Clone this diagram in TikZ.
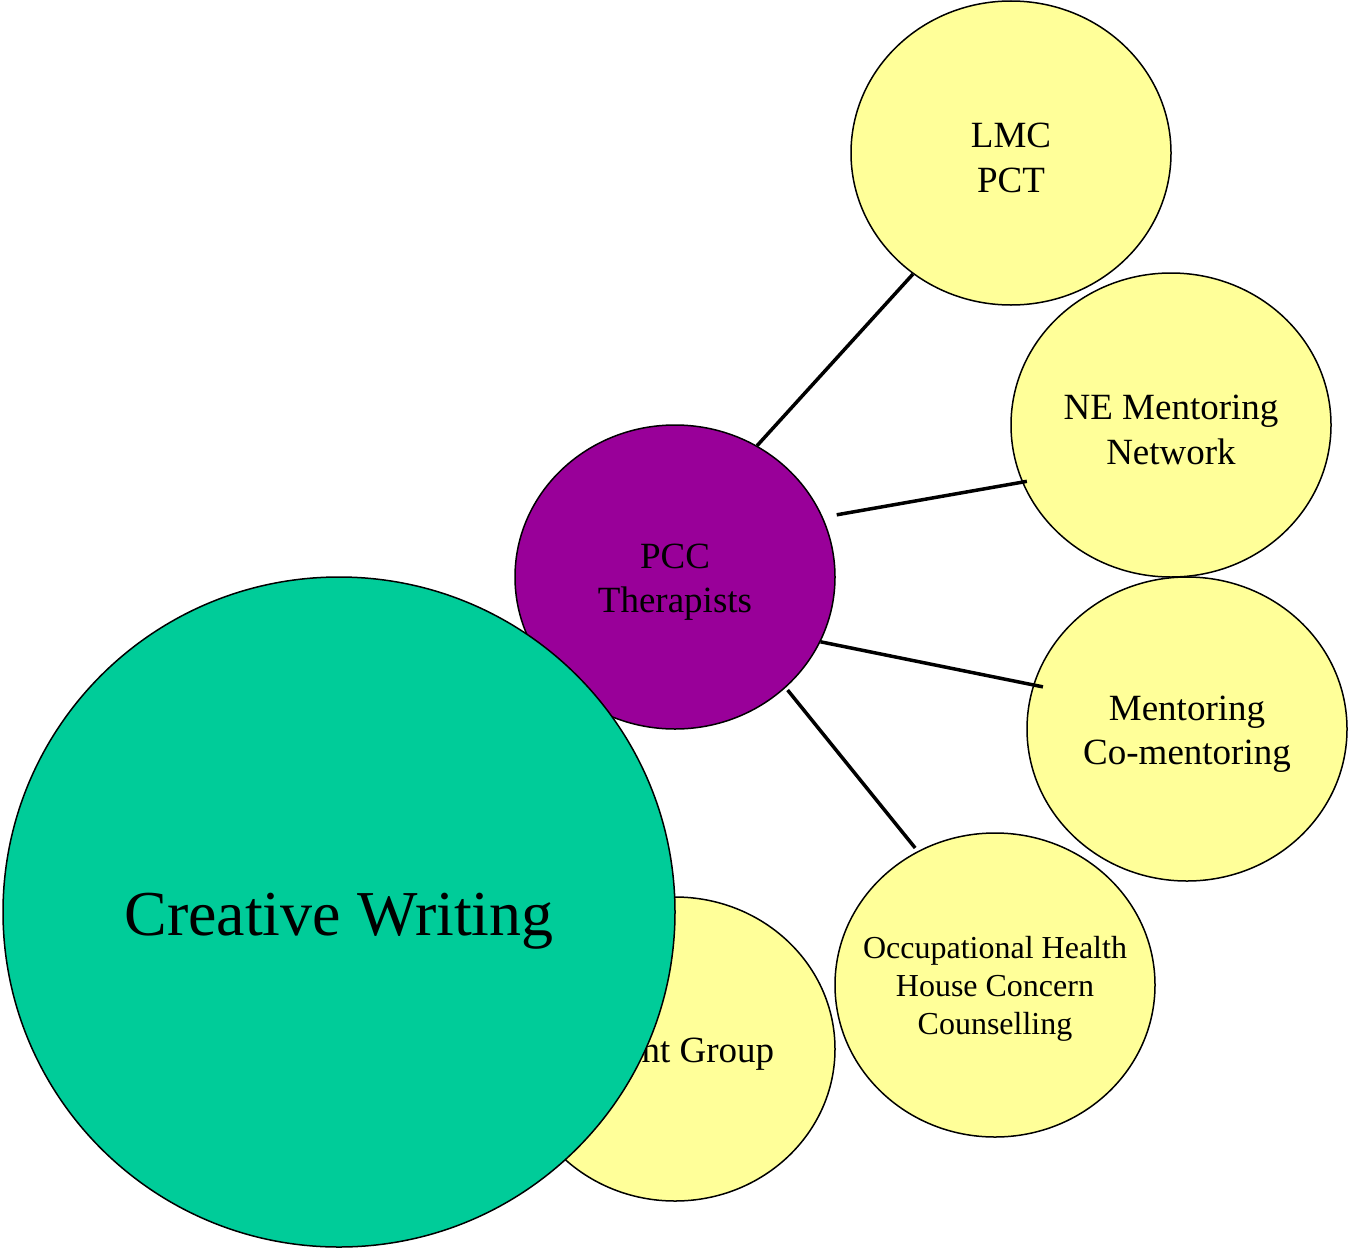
\documentclass[tikz,border=0pt]{standalone}
\usepackage{fontspec}
\setmainfont{Liberation Serif}
\usetikzlibrary{shapes.geometric}

\definecolor{pale}{HTML}{FFFF99}
\definecolor{plum}{HTML}{990099}
\definecolor{mint}{HTML}{00CC99}

\begin{document}
\begin{tikzpicture}[x=1pt,y=-1pt,
    bubble/.style={ellipse, draw, line width=1.5pt, fill=pale, inner sep=0pt,
      minimum width=320pt, minimum height=304pt},
    caption/.style={align=center, inner sep=0pt, yshift=-5pt,
      font=\fontsize{37}{44.5}\selectfont},
    link/.style={line width=3.5pt}]
  \useasboundingbox (0,0) rectangle (1348,1247);
  % outer ring
  \node[bubble, label={[caption]center:{LMC\\PCT}}] (lmc) at (1011,153) {};
  \node[bubble, label={[caption]center:{NE Mentoring\\Network}}] (ne) at (1171,425) {};
  \node[bubble, label={[caption]center:{Mentoring\\Co-mentoring}}] (mentor) at (1187,729) {};
  \node[bubble, label={[caption, yshift=1pt, font=\fontsize{32}{38}\selectfont]center:%
    {Occupational Health\\House Concern\\Counselling}}] (occ) at (995,985) {};
  \node[bubble, label={[caption]center:{Parent Group}}] (group) at (675,1049) {};
  % hub
  \node[bubble, fill=plum, label={[caption]center:{PCC\\Therapists}}] (pcc) at (675,577) {};
  \node[bubble, fill=mint, minimum width=672pt, minimum height=670pt,
    label={[caption, yshift=-4pt, font=\fontsize{64}{76}\selectfont]center:{Creative Writing}}]
    (cw) at (339,912) {};
  % spokes
  \draw[link] (pcc.58) -- (lmc.231);
  \draw[link, shorten <=14pt, shorten >=-5pt] (pcc.22) -- (ne.201);
  \draw[link, shorten >=-10pt] (pcc.336) -- (mentor.164);
  \draw[link, shorten <=3pt, shorten >=4pt] (pcc.315) -- (occ.120.5);
\end{tikzpicture}
\end{document}
